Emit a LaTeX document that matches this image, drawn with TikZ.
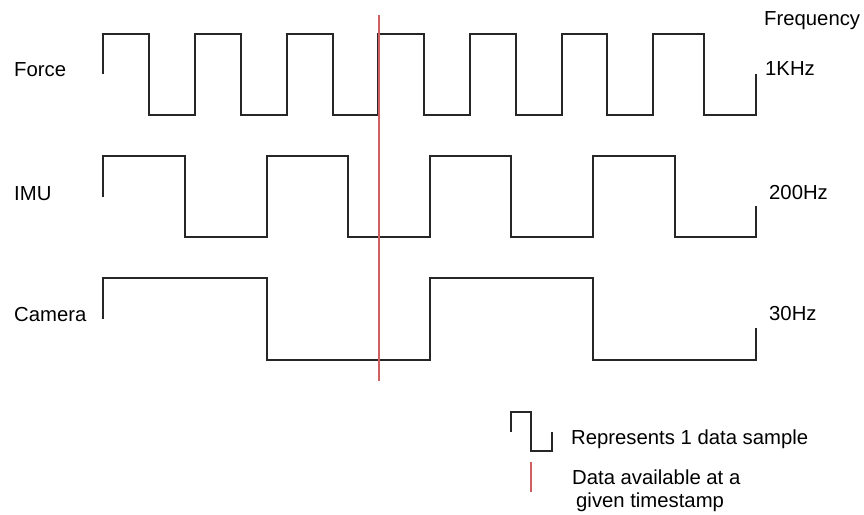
\documentclass[tikz,border=0pt]{standalone}
\usepackage{fontspec}
\setmainfont{Liberation Sans}
\begin{document}
\begin{tikzpicture}
    [   x=1pt,y=-1pt,
        wave/.style={draw=black!85,line width=1.3pt},
        stamp/.style={draw={rgb,255:red,208;green,96;blue,96},line width=2pt},
        lbl/.style={anchor=base west,inner sep=0pt,font=\fontsize{20.3}{24}\selectfont},
    ]
        \useasboundingbox (0,0) rectangle (864,514);
        % row names and rates
        \node[lbl] (force)  at (14,76)  {Force};
        \node[lbl] (imu)    at (14,200) {IMU};
        \node[lbl] (camera) at (14,321) {Camera};
        \node[lbl] (freq)   at (764,25)  {Frequency};
        \node[lbl] (f1k)    at (765,75)  {1KHz};
        \node[lbl] (f200)   at (769,199) {200Hz};
        \node[lbl] (f30)    at (769,320) {30Hz};
        % force, 1KHz
        \draw[wave] (103,74) -- (103,34)
            \foreach \x/\y in {149/115,195/34,241/115,287/34,333/115,378/34,424/115,
                               470/34,516/115,562/34,607/115,653/34,704/115,756/74}
            { -| (\x,\y) };
        % imu, 200Hz
        \draw[wave] (103,197) -- (103,156)
            \foreach \x/\y in {185/237,267/156,348/237,430/156,511/237,593/156,675/237,756/206}
            { -| (\x,\y) };
        % camera, 30Hz
        \draw[wave] (103,319) -- (103,278)
            \foreach \x/\y in {267/360,430/278,593/360,756/328}
            { -| (\x,\y) };
        % timestamp
        \coordinate (ts-top) at (378.5,15);
        \coordinate (ts-bot) at (378.5,381);
        \draw[stamp] (ts-top) -- (ts-bot);
        % legend
        \draw[wave] (511,432) -- (511,412) -| (531,451) -| (552,432);
        \node[lbl] (legwave) at (571,444) {Represents 1 data sample};
        \coordinate (leg-top) at (531,462);
        \coordinate (leg-bot) at (531,492);
        \draw[stamp] (leg-top) -- (leg-bot);
        \node[lbl] (legline) at (572,484) {Data available at a};
        \node[lbl] (legline2) at (576,507) {given timestamp};
  \end{tikzpicture}
\end{document}
